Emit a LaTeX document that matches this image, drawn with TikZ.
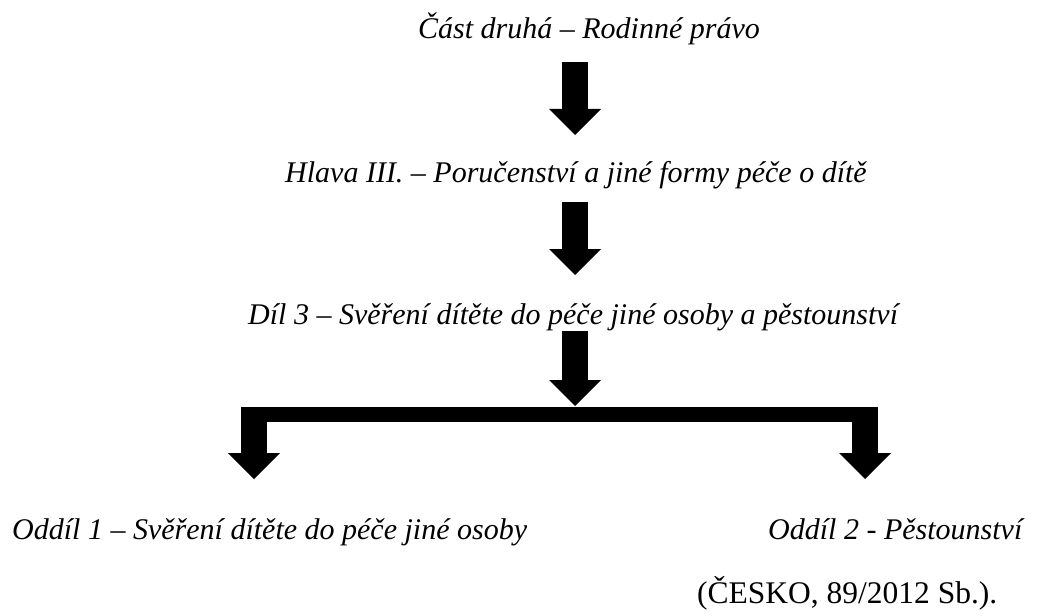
\documentclass[tikz,border=0pt]{standalone}
\usepackage{fontspec}
\setmainfont{Liberation Serif}
\usetikzlibrary{arrows.meta}

\begin{document}
\begin{tikzpicture}[
    x=1pt,y=-1pt,
    heading/.style={inner sep=0pt,font=\fontsize{30}{35}\selectfont\itshape},
    blockarrow/.style={line width=26pt,-{Triangle[length=26pt,width=52pt,line width=0pt]}},
    bar/.style={line width=15pt}
]
    \useasboundingbox (0,0) rectangle (1040,615);

    % Headings
    \node[heading,anchor=base] (cast) at (589,39) {Část druhá – Rodinné právo};
    \node[heading,anchor=base west] (hlava) at (285,182) {Hlava III. – Poručenství a jiné formy péče o dítě};
    \node[heading,anchor=base west] (dil) at (248,324) {Díl 3 – Svěření dítěte do péče jiné osoby a pěstounství};
    \node[heading,anchor=base west] (oddil1) at (12,539) {Oddíl 1 – Svěření dítěte do péče jiné osoby};
    \node[heading,anchor=base west] (oddil2) at (768,539) {Oddíl 2 - Pěstounství};
    \node[inner sep=0pt,anchor=base west,font=\fontsize{31.5}{36}\selectfont] (zdroj) at (697,603) {(ČESKO, 89/2012 Sb.).};

    % Arrow ends
    \coordinate (a1s) at (575,62);
    \coordinate (a1e) at (575,135);
    \coordinate (a2s) at (575,202);
    \coordinate (a2e) at (575,275);
    \coordinate (a3s) at (575,331);
    \coordinate (a3e) at (575,406);
    \coordinate (barl) at (241,414.5);
    \coordinate (barr) at (877,414.5);
    \coordinate (l1s) at (254,407);
    \coordinate (l1e) at (254,479);
    \coordinate (r1s) at (865,407);
    \coordinate (r1e) at (865,479);

    % Arrows
    \draw[blockarrow] (a1s) -- (a1e);
    \draw[blockarrow] (a2s) -- (a2e);
    \draw[blockarrow] (a3s) -- (a3e);
    \draw[bar] (barl) -- (barr);
    \draw[blockarrow] (l1s) -- (l1e);
    \draw[blockarrow] (r1s) -- (r1e);
\end{tikzpicture}
\end{document}
